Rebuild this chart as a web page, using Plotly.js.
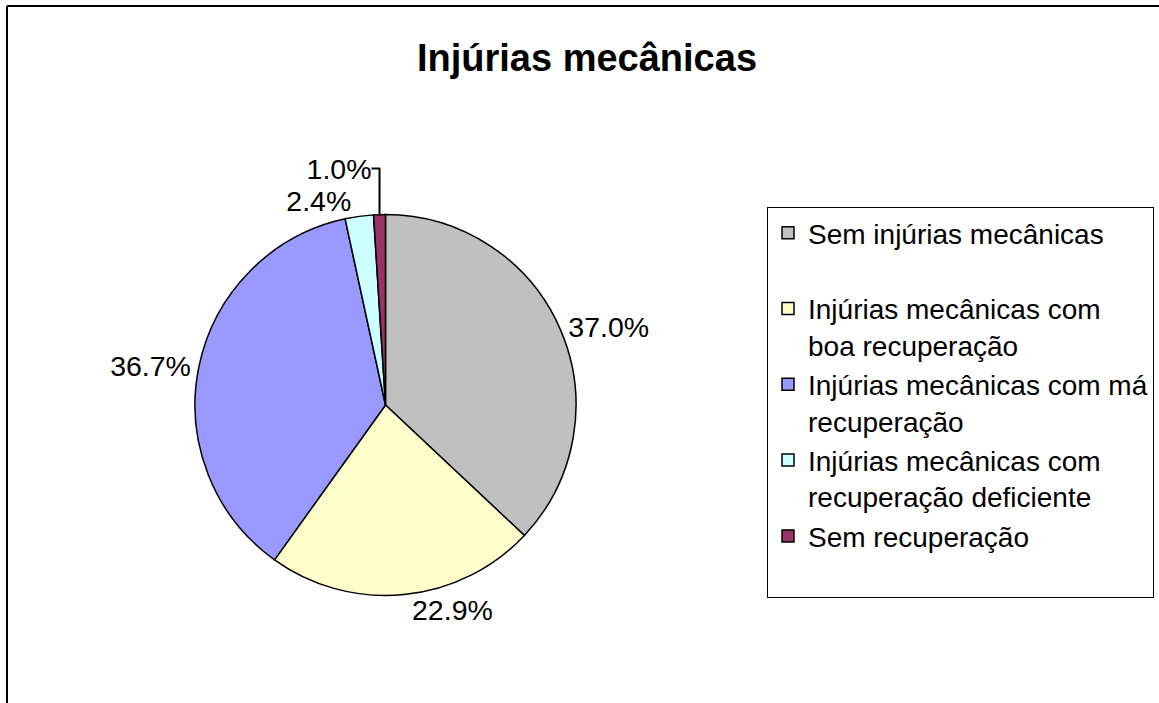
<!DOCTYPE html>
<html>
<head>
<meta charset="utf-8">
<script src="https://cdn.plot.ly/plotly-3.0.1.min.js"></script>
<style>html,body{margin:0;padding:0;background:#fff;}#chart{width:1159px;height:703px;}</style>
</head>
<body>
<div id="chart"></div>
<script>
const categories = [
  "Sem injúrias mecânicas<br>\u200b",
  "Injúrias mecânicas com<br>boa recuperação",
  "Injúrias mecânicas com má<br>recuperação",
  "Injúrias mecânicas com<br>recuperação deficiente",
  "Sem recuperação<br>\u200b"
];
const values = [37.0, 22.9, 36.7, 2.4, 1.0];
const colors = ["#C0C0C0", "#FFFFCC", "#9999FF", "#CCFFFF", "#993366"];
const chartTitle = "Injúrias mecânicas";

const W = 1159, H = 703;
const cx = 385.5, cy = 405, R = 190.5;
const FONT = "Liberation Sans, Arial, sans-serif";

const trace = {
  type: "pie",
  labels: categories,
  values: values,
  sort: false,
  direction: "clockwise",
  rotation: 0,
  marker: {colors: colors, line: {color: "#000000", width: 1.5}},
  texttemplate: "%{value:.1f}%",
  textposition: "outside",
  textfont: {family: FONT, size: 28.5, color: "#000000"},
  hoverinfo: "label+value",
  domain: {x: [(cx - R) / W, (cx + R) / W], y: [1 - (cy + R) / H, 1 - (cy - R) / H]},
  automargin: false
};

const layout = {
  width: W, height: H,
  margin: {l: 0, r: 0, t: 0, b: 0, autoexpand: false},
  paper_bgcolor: "#ffffff",
  plot_bgcolor: "#ffffff",
  font: {family: FONT, color: "#000000"},
  title: {
    text: "<b>" + chartTitle + "</b>",
    font: {family: FONT, size: 38, color: "#000000"},
    xref: "container", yref: "container",
    x: 587 / W, y: 1 - 58 / H, xanchor: "center", yanchor: "middle"
  },
  showlegend: true,
  legend: {
    xref: "paper", yref: "paper",
    x: 767 / W, y: 1 - 207 / H, xanchor: "left", yanchor: "top",
    bordercolor: "#000000", borderwidth: 1, bgcolor: "#ffffff",
    font: {family: FONT, size: 28, color: "#000000"},
    valign: "top",
    traceorder: "normal"
  },
  shapes: [
    {type: "line", xref: "paper", yref: "paper", x0: 7 / W, x1: 7 / W, y0: 0, y1: 1 - 6 / H, line: {color: "#000000", width: 2}},
    {type: "line", xref: "paper", yref: "paper", x0: 7 / W, x1: 1, y0: 1 - 6 / H, y1: 1 - 6 / H, line: {color: "#000000", width: 2}}
  ]
};

Plotly.newPlot("chart", [trace], layout, {displayModeBar: false, staticPlot: true});
</script>
</body>
</html>
